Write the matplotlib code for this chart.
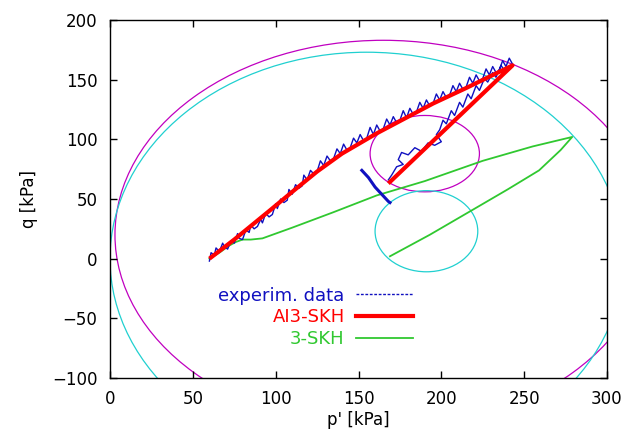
import matplotlib
matplotlib.use("Agg")
import matplotlib.pyplot as plt
from matplotlib.patches import Ellipse
from matplotlib.lines import Line2D

# ---- data ----
# experimental stress path: loading + unloading (p', q)
exp_p = [60, 61, 63, 64, 66, 68, 69, 71, 73, 75, 77, 78, 80, 82, 84, 85, 87, 89, 91, 92,
         94, 96, 98, 100, 101, 103, 105, 107, 108, 110, 112, 114, 116, 117, 119, 121, 123,
         125, 127, 129, 131, 133, 135, 137, 139, 141, 143, 145, 147, 149, 151, 153, 155,
         157, 159, 161, 163, 165, 167, 169, 171, 173, 175, 177, 179, 181, 183, 185, 187,
         189, 191, 193, 195, 197, 199, 201, 203, 205, 207, 209, 211, 213, 215, 217, 219,
         221, 223, 225, 227, 229, 231, 233, 235, 237, 239, 241, 243,
         241, 238, 236, 233, 231, 228, 226, 223, 221, 218, 216, 213, 211, 208, 206, 203,
         201, 199, 197, 200, 196, 192, 188, 184, 180, 176, 174, 177, 173, 170, 168]
exp_q = [-2, 5, 3, 9, 6, 13, 10, 8, 15, 13, 21, 17, 16, 24, 22, 28, 25, 27, 33, 30,
         38, 35, 37, 46, 42, 50, 47, 49, 58, 54, 62, 59, 61, 70, 66, 74, 71,
         73, 82, 78, 86, 82, 84, 92, 88, 96, 91, 93, 101, 97, 104, 99, 101,
         110, 104, 112, 107, 109, 117, 112, 119, 114, 116, 124, 118, 126, 121, 123, 131,
         126, 133, 128, 130, 138, 133, 140, 135, 137, 145, 140, 147, 142, 144, 152, 147,
         154, 149, 151, 159, 154, 161, 156, 158, 166, 161, 168, 163,
         160, 158, 162, 152, 156, 148, 151, 141, 145, 134, 138, 127, 131, 120, 124, 113,
         116, 108, 104, 98, 95, 97, 90, 93, 87, 89, 83, 79, 77, 70, 66]
# final experimental segment
exp2_p = [152, 154, 156, 158, 160, 162, 164, 166, 168, 169]
exp2_q = [74, 71, 68, 64, 60, 57, 54, 51, 48, 47]

# AI3-SKH prediction
ai3_p = [60, 75, 97, 110, 125, 140, 161, 195, 215, 243, 168]
ai3_q = [0, 16, 41, 56, 73, 88, 105, 130, 143, 162, 63]

# 3-SKH prediction
skh_p = [60, 66, 72, 76, 80, 85, 92, 110, 135, 161, 190, 225, 255, 279,
         272, 259, 240, 219, 193, 169]
skh_q = [0, 5, 11, 14, 16, 16, 17, 26, 39, 53, 65, 82, 94, 102,
         91, 74, 58, 41, 20, 2]

# surfaces: (center p, center q, semi-axis p, semi-axis q)
ai3_bound = (165, 20, 162, 163)
ai3_small = (190, 88, 33, 32)
skh_bound = (155, 0, 155, 173)
skh_small = (191, 23, 31, 34)

x_ticks = [0, 50, 100, 150, 200, 250, 300]
y_ticks = [-100, -50, 0, 50, 100, 150, 200]

# ---- styling ----
MAG = "#c000c0"
CYA = "#20d0d0"
RED = "#ff0000"
GRN = "#30c830"
BLU = "#1010c0"

plt.rcParams['font.family'] = ['DejaVu Sans']

fig = plt.figure(figsize=(6.24, 4.46), dpi=100)
ax = fig.add_axes([110/624, 1-378/446, 497/624, 358/446])

for (cp, cq, a, b), col in [(ai3_bound, MAG), (ai3_small, MAG),
                            (skh_bound, CYA), (skh_small, CYA)]:
    ax.add_patch(Ellipse((cp, cq), 2*a, 2*b, fill=False, edgecolor=col, lw=0.9))

ax.plot(skh_p, skh_q, color=GRN, lw=1.3)
ax.plot(exp_p, exp_q, color=BLU, lw=1.0)
ax.plot(exp2_p, exp2_q, color=BLU, lw=2.2)
ax.plot(ai3_p, ai3_q, color=RED, lw=3.0, solid_capstyle='butt')

ax.set_xlim(0, 300)
ax.set_ylim(-100, 200)
ax.set_xticks(x_ticks)
ax.set_yticks(y_ticks)
ax.tick_params(direction='in', length=5, width=1.0, top=True, right=True,
               labelsize=12, pad=9)
for s in ax.spines.values():
    s.set_linewidth(1.0)

ax.set_xlabel("p' [kPa]", fontsize=12, labelpad=2)
ax.set_ylabel("q [kPa]", fontsize=12, labelpad=10)

handles = [Line2D([], [], color=BLU, lw=1.0, ls=(0, (2, 1.2))),
           Line2D([], [], color=RED, lw=3.0),
           Line2D([], [], color=GRN, lw=1.3)]
labels = ["experim. data", "AI3-SKH", "3-SKH"]
leg = ax.legend(handles, labels, loc='upper left', bbox_to_anchor=(0.2, 0.28),
                frameon=False, markerfirst=False, fontsize=13, handlelength=3.2,
                handletextpad=0.6, labelspacing=0.2, borderpad=0.0)
for t, c in zip(leg.get_texts(), [BLU, RED, GRN]):
    t.set_color(c)
    t.set_ha('right')
leg._legend_box.align = "right"

fig.savefig("out.png", dpi=100)
